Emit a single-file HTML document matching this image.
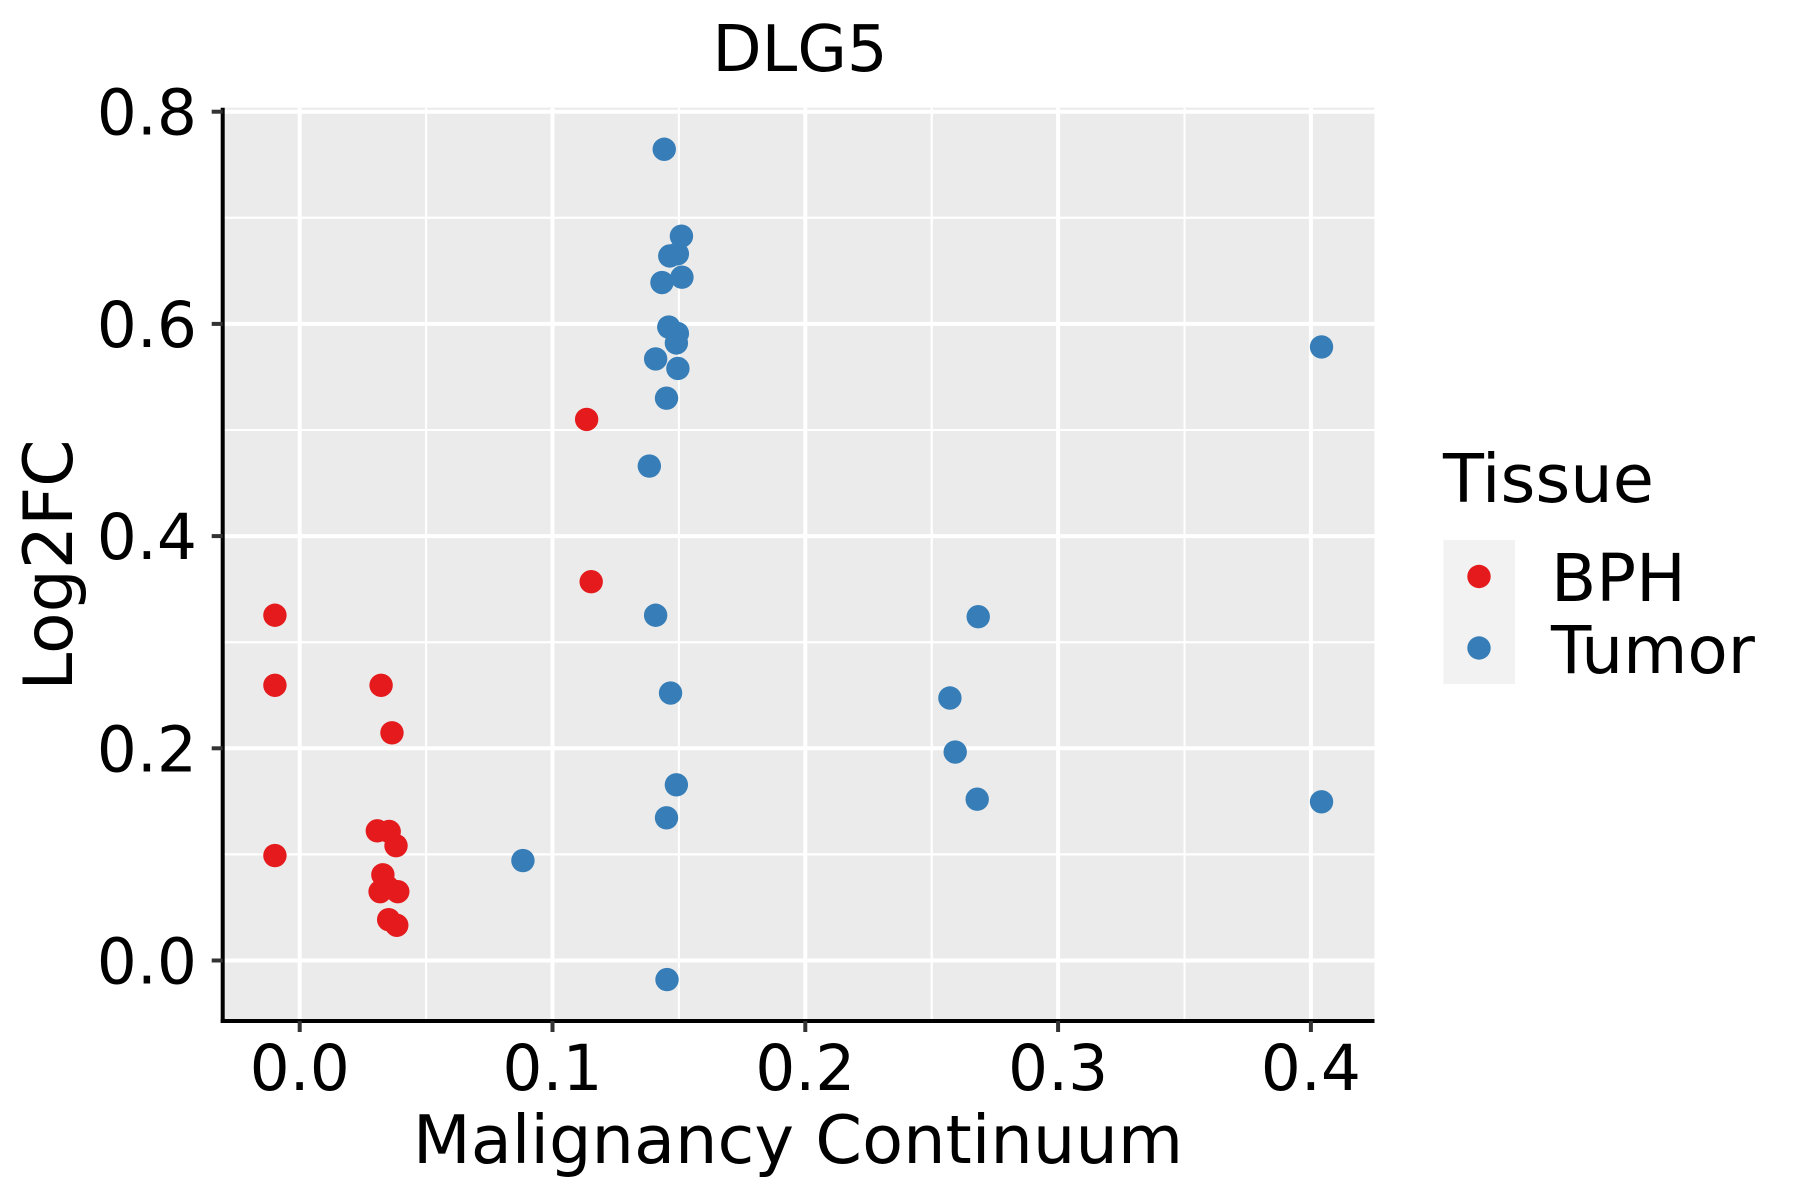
<!DOCTYPE html>
<html><head><meta charset="utf-8"><style>
html,body{margin:0;padding:0;background:#fff}
svg{display:block}
text{font-family:"DejaVu Sans","Liberation Sans",sans-serif}
</style></head><body>
<svg id="chart" width="1800" height="1200" viewBox="0 0 1800 1200">
<rect x="0" y="0" width="1800" height="1200" fill="#fff"/>
<g id="panel"></g>
<g id="points"></g>
<g id="axes"></g>
<text x="800" y="71" font-size="64" text-anchor="middle" fill="#000">DLG5</text>
<text x="798" y="1163" font-size="67" text-anchor="middle" fill="#000">Malignancy Continuum</text>
<text transform="translate(72,565) rotate(-90)" font-size="68" text-anchor="middle" fill="#000">Log2FC</text>
<g>
<text x="1443" y="502" font-size="67" fill="#000">Tissue</text>
<rect x="1443.5" y="540" width="71.5" height="144" fill="#F2F2F2"/>
<g>
<circle cx="1479" cy="576.5" r="11.7" fill="#E41A1C"/>
<text x="1551" y="601" font-size="66" fill="#000">BPH</text>
</g>
<g>
<circle cx="1479" cy="648" r="11.7" fill="#377EB8"/>
<text x="1551" y="673" font-size="66" fill="#000">Tumor</text>
</g>
</g>
</svg>
<script>
const xTicks = [0.0, 0.1, 0.2, 0.3, 0.4];
const xTickLabels = ["0.0", "0.1", "0.2", "0.3", "0.4"];
const yTicks = [0.0, 0.2, 0.4, 0.6, 0.8];
const yTickLabels = ["0.0", "0.2", "0.4", "0.6", "0.8"];
const bphX = [-0.0098, -0.0098, -0.0098, 0.0322, 0.0365, 0.0307, 0.0354, 0.0381, 0.0329, 0.0318, 0.0347, 0.0388, 0.0352, 0.0384, 0.1135, 0.1153];
const bphY = [0.3254, 0.2594, 0.0989, 0.2594, 0.2146, 0.1222, 0.1216, 0.1082, 0.0808, 0.0649, 0.0693, 0.0649, 0.0385, 0.0332, 0.510, 0.357];
const tumorX = [0.1442, 0.151, 0.1464, 0.1494, 0.1433, 0.1512, 0.146, 0.1494, 0.149, 0.1408, 0.1496, 0.1451, 0.1383, 0.1408, 0.1467, 0.149, 0.1451, 0.0883, 0.1453, 0.4042, 0.2684, 0.2572, 0.2593, 0.268, 0.4042];
const tumorY = [0.7646, 0.6827, 0.664, 0.666, 0.639, 0.644, 0.597, 0.591, 0.582, 0.567, 0.558, 0.530, 0.466, 0.3254, 0.2521, 0.1656, 0.1345, 0.0942, -0.018, 0.5783, 0.324, 0.2474, 0.1965, 0.152, 0.1496];

const NS = "http://www.w3.org/2000/svg";
const PL = 222.7, PR = 1374.5, PT = 107.7, PB = 1021;
function sx(v){ return 299.7 + v * 2528; }
function sy(v){ return 960.5 - v * 1061; }
function mk(tag, attrs, parent){
  const e = document.createElementNS(NS, tag);
  for (const k in attrs) e.setAttribute(k, attrs[k]);
  parent.appendChild(e);
  return e;
}
const panel = document.getElementById('panel');
const bg = mk('rect', {x: PL, y: PT, width: PR - PL, height: PB - PT, fill: '#EBEBEB'}, panel);


for (let i = 0; i < xTicks.length; i++) {
  for (const v of [xTicks[i] - 0.05, xTicks[i] + 0.05]) {
    const X = sx(v);
    if (X < PL || X > PR) continue;
    const g = mk('line', {x1: X, x2: X, y1: PT, y2: PB, stroke: '#fff', 'stroke-width': 2}, panel);
    
    
  }
}
for (let i = 0; i < yTicks.length; i++) {
  for (const v of [yTicks[i] - 0.1, yTicks[i] + 0.1]) {
    const Y = sy(v);
    if (Y < PT || Y > PB) continue;
    const g = mk('line', {x1: PL, x2: PR, y1: Y, y2: Y, stroke: '#fff', 'stroke-width': 2}, panel);
    
    
  }
}
xTicks.forEach(v => {
  const g = mk('line', {x1: sx(v), x2: sx(v), y1: PT, y2: PB, stroke: '#fff', 'stroke-width': 4}, panel);
  
  
});
yTicks.forEach(v => {
  const g = mk('line', {x1: PL, x2: PR, y1: sy(v), y2: sy(v), stroke: '#fff', 'stroke-width': 4}, panel);
  
  
});
const pts = document.getElementById('points');
bphX.forEach((v, i) => {
  const c = mk('circle', {cx: sx(v), cy: sy(bphY[i]), r: 11.7, fill: '#E41A1C'}, pts);
  
  
});
tumorX.forEach((v, i) => {
  const c = mk('circle', {cx: sx(v), cy: sy(tumorY[i]), r: 11.7, fill: '#377EB8'}, pts);
  
  
});
const ax = document.getElementById('axes');
const yl = mk('line', {x1: PL, x2: PL, y1: PT, y2: PB + 2, stroke: '#000', 'stroke-width': 4}, ax);


const xl = mk('line', {x1: PL - 2, x2: PR, y1: PB, y2: PB, stroke: '#000', 'stroke-width': 4}, ax);


xTicks.forEach((v, i) => {
  const t = mk('line', {x1: sx(v), x2: sx(v), y1: PB, y2: PB + 11, stroke: '#333', 'stroke-width': 4}, ax);
  
  
  const l = mk('text', {x: sx(v), y: 1090, 'font-size': 63, 'text-anchor': 'middle', fill: '#000'}, ax);
  l.textContent = xTickLabels[i];
  
  
});
yTicks.forEach((v, i) => {
  const t = mk('line', {x1: PL - 11, x2: PL, y1: sy(v), y2: sy(v), stroke: '#333', 'stroke-width': 4}, ax);
  
  
  const l = mk('text', {x: 197, y: sy(v) + 23, 'font-size': 63, 'text-anchor': 'end', fill: '#000'}, ax);
  l.textContent = yTickLabels[i];
  
  
});
</script>
</body></html>
